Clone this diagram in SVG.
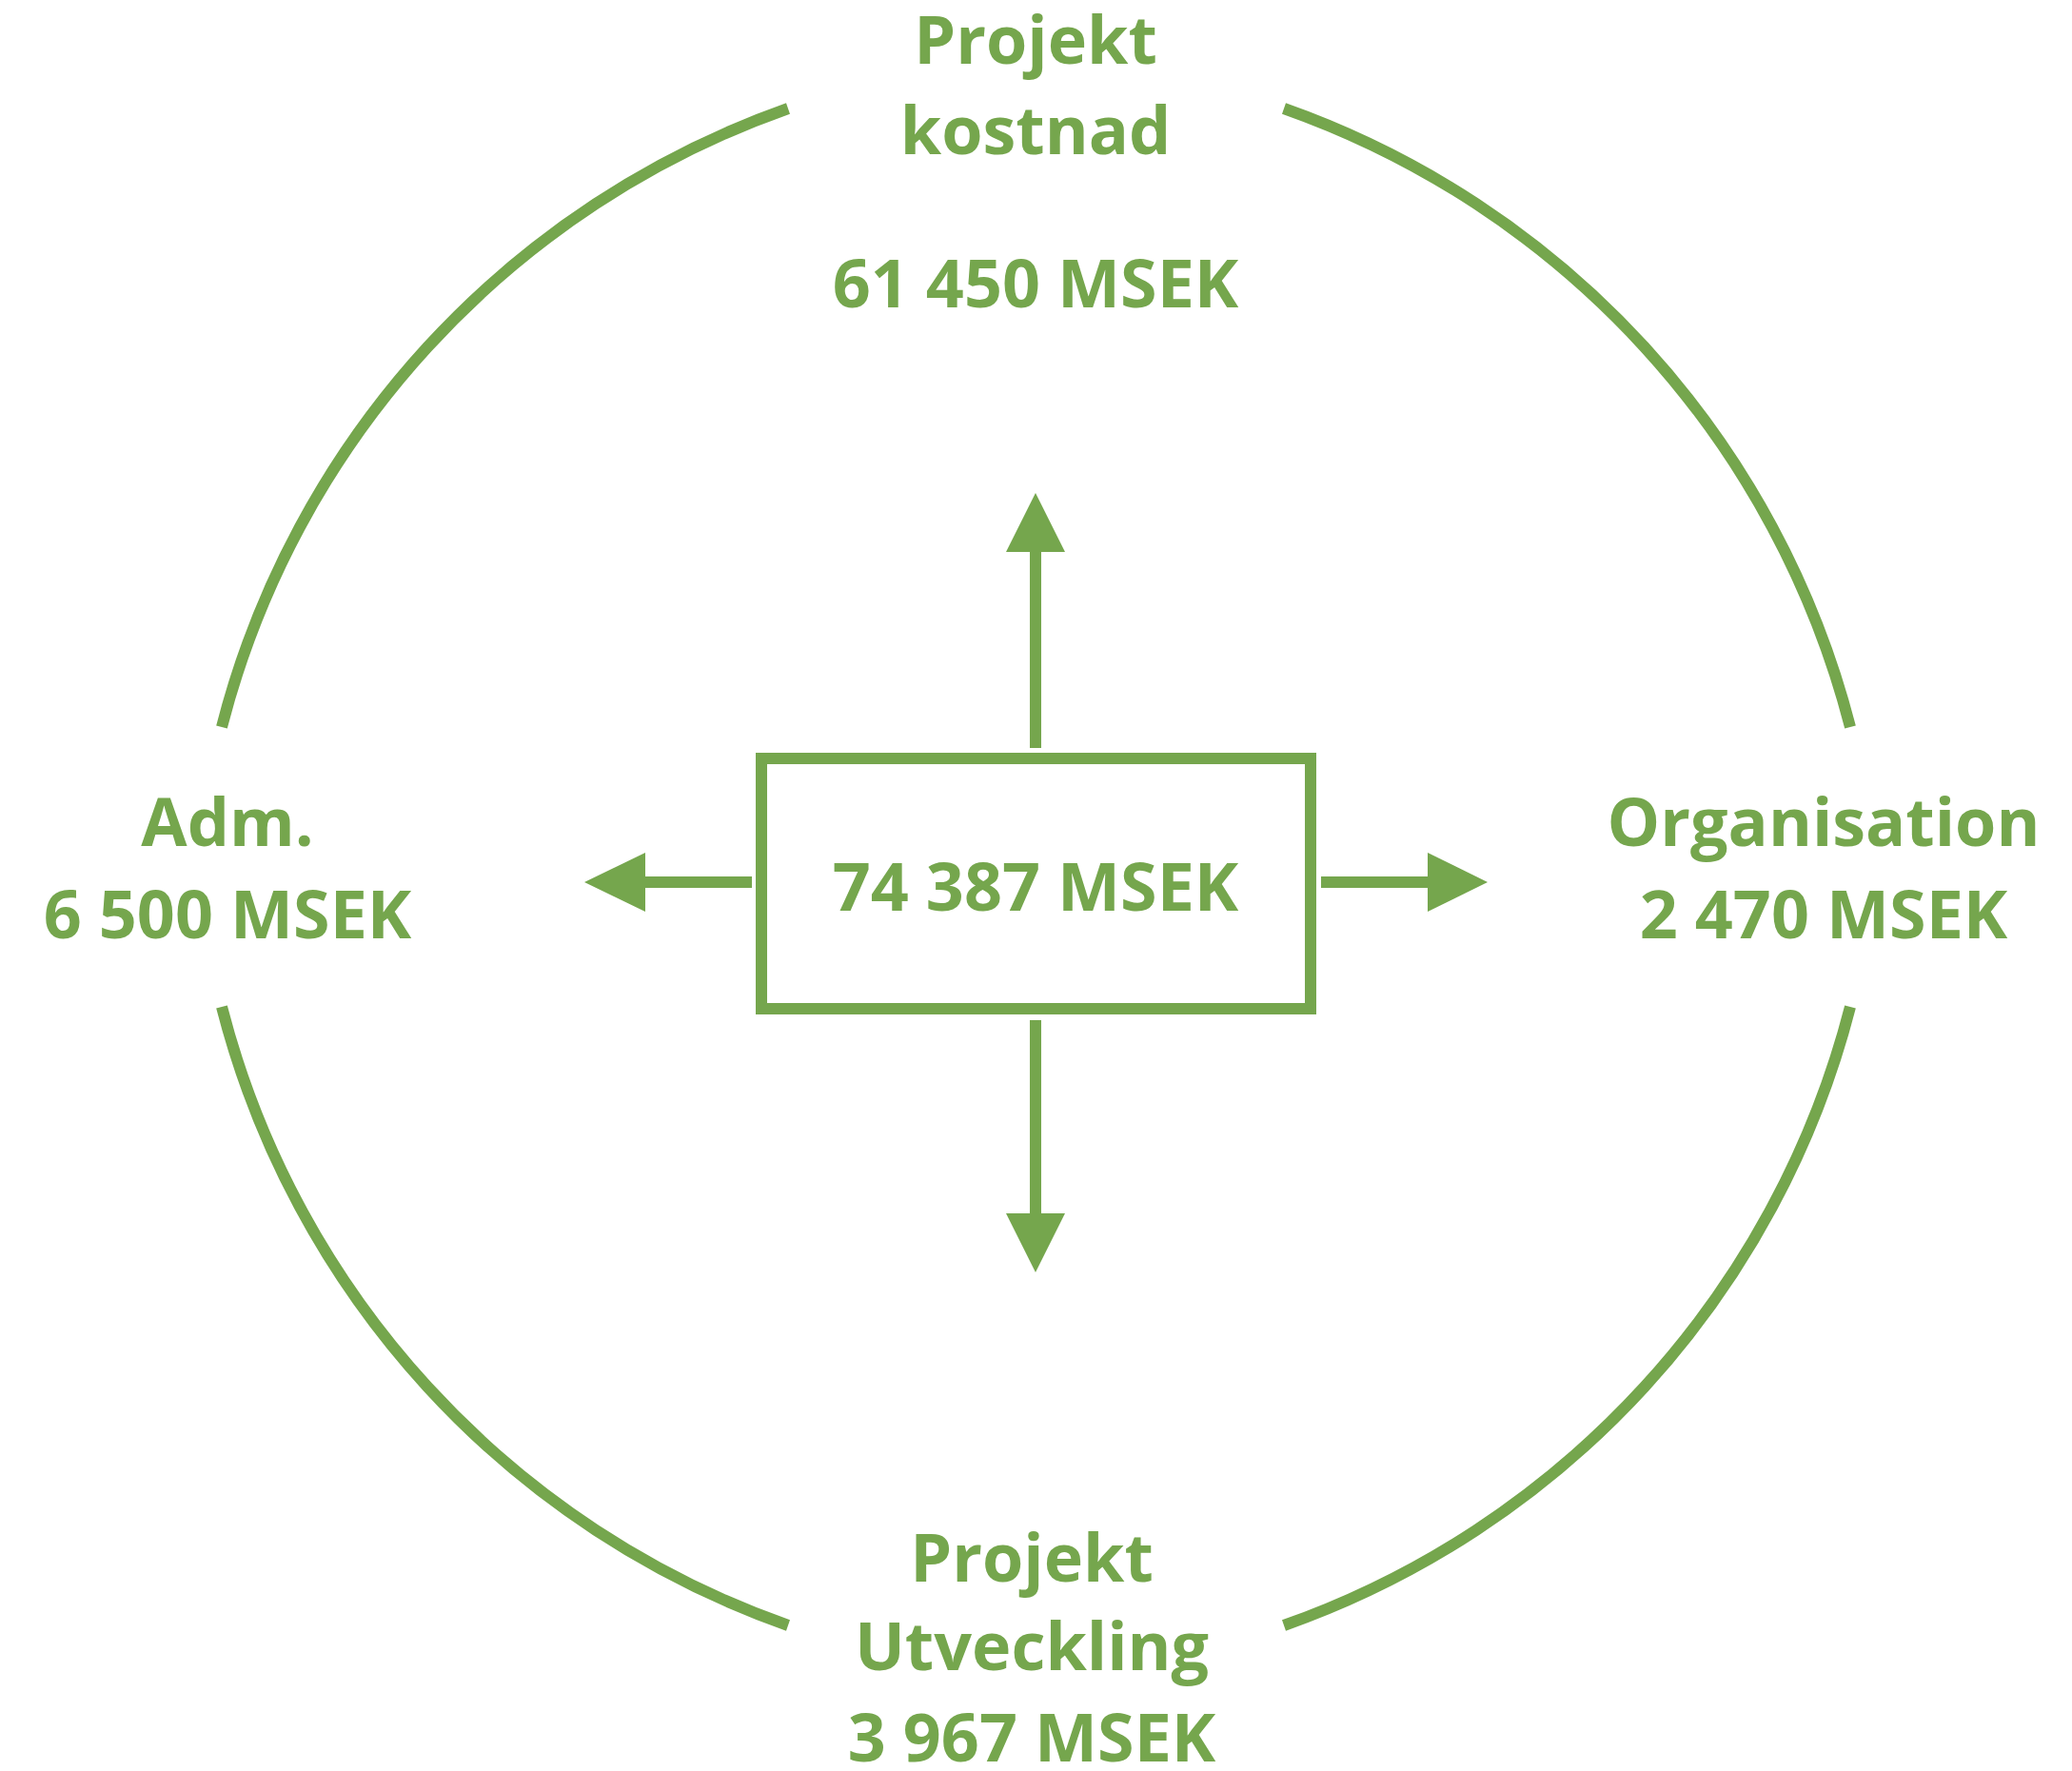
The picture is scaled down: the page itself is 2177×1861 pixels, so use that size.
<svg xmlns="http://www.w3.org/2000/svg" width="2177" height="1861" viewBox="0 0 2177 1861">
<style>
.t{font-family:"Open Sans","Liberation Sans",sans-serif;font-weight:bold;font-size:70px;fill:#75a64d;text-anchor:middle}
.arc{fill:none;stroke:#75a64d;stroke-width:12}
.sh{stroke:#75a64d;stroke-width:12;fill:none}
.hd{fill:#75a64d}
</style>
<rect width="2177" height="1861" fill="#fff"/>
<g id="connectors">
<path class="arc" d="M 828 114 A 936 936 0 0 0 233 764"/>
<path class="arc" d="M 1349 114 A 936 936 0 0 1 1944 764"/>
<path class="arc" d="M 233 1058 A 936 936 0 0 0 828 1708"/>
<path class="arc" d="M 1944 1058 A 936 936 0 0 1 1349 1708"/>
<line class="sh" x1="1088" y1="786" x2="1088" y2="578"/>
<polygon class="hd" points="1057,580 1119,580 1088,518"/>
<line class="sh" x1="1088" y1="1072" x2="1088" y2="1277"/>
<polygon class="hd" points="1057,1275 1119,1275 1088,1337"/>
<line class="sh" x1="790" y1="927" x2="676" y2="927"/>
<polygon class="hd" points="678,896 678,958 614,927"/>
<line class="sh" x1="1388" y1="927" x2="1502" y2="927"/>
<polygon class="hd" points="1500,896 1500,958 1563,927"/>
</g>
<g id="center">
<rect x="800" y="797" width="577" height="263" fill="none" stroke="#75a64d" stroke-width="12"/>
<text class="t" x="1088" y="957">74 387 MSEK</text>
</g>
<g id="projektkostnad">
<text class="t" x="1088" y="67">Projekt</text>
<text class="t" x="1088" y="162">kostnad</text>
<text class="t" x="1088" y="323">61 450 MSEK</text>
</g>
<g id="adm">
<text class="t" x="239" y="889">Adm.</text>
<text class="t" x="239" y="986">6 500 MSEK</text>
</g>
<g id="organisation">
<text class="t" x="1916" y="889">Organisation</text>
<text class="t" x="1916" y="986">2 470 MSEK</text>
</g>
<g id="projektutveckling">
<text class="t" x="1084" y="1662">Projekt</text>
<text class="t" x="1084" y="1755">Utveckling</text>
<text class="t" x="1084" y="1851">3 967 MSEK</text>
</g>
</svg>
